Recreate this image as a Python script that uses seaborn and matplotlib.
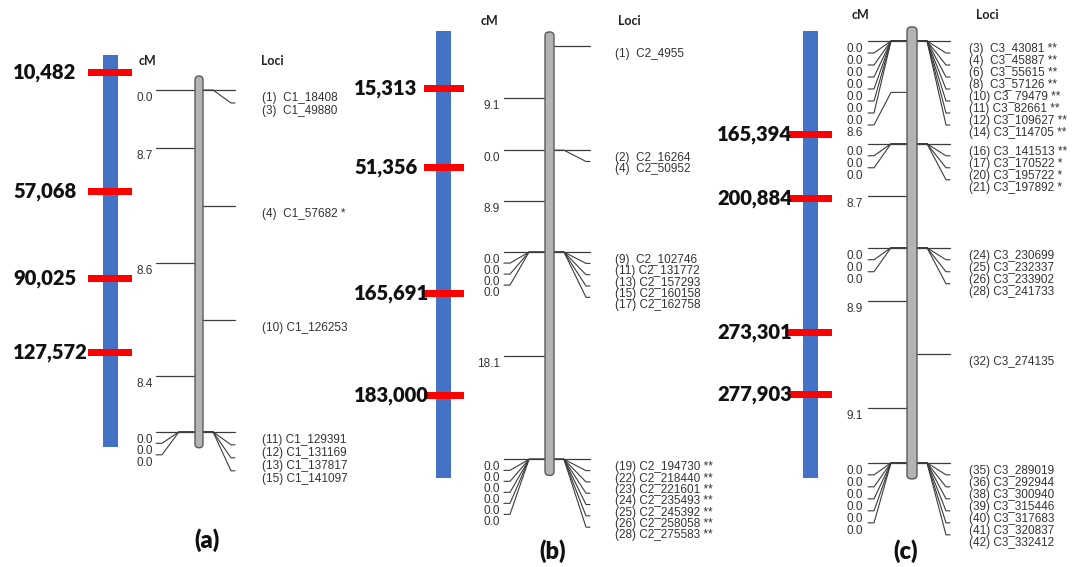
import matplotlib
matplotlib.use("Agg")
import matplotlib.pyplot as plt
import seaborn as sns
from matplotlib import font_manager
from matplotlib.patches import Rectangle, FancyBboxPatch
from matplotlib.transforms import offset_copy

# ---- chromosome 1 (a) ----
c1_ids = [1, 3, 4, 10, 11, 12, 13, 15]
c1_names = ["C1_18408", "C1_49880", "C1_57682", "C1_126253",
            "C1_129391", "C1_131169", "C1_137817", "C1_141097"]
c1_cm = [0.0, 0.0, 8.7, 17.3, 25.7, 25.7, 25.7, 25.7]
c1_stars = ["", "", "*", "", "", "", "", ""]
c1_phys = [10482, 57068, 90025, 127572]
c1_phys_track = [-1.3, 7.6, 14.2, 19.7]

# ---- chromosome 2 (b) ----
c2_ids = [1, 2, 4, 9, 11, 13, 15, 17, 19, 22, 23, 24, 25, 26, 28]
c2_names = ["C2_4955", "C2_16264", "C2_50952", "C2_102746", "C2_131772",
            "C2_157293", "C2_160158", "C2_162758", "C2_194730", "C2_218440",
            "C2_221601", "C2_235493", "C2_245392", "C2_258058", "C2_275583"]
c2_cm = [0.0, 9.1, 9.1, 18.0, 18.0, 18.0, 18.0, 18.0,
         36.1, 36.1, 36.1, 36.1, 36.1, 36.1, 36.1]
c2_stars = [""] * 8 + ["**"] * 7
c2_phys = [15313, 51356, 165691, 183000]
c2_phys_track = [3.7, 10.6, 21.6, 30.5]

# ---- chromosome 3 (c) ----
c3_ids = [3, 4, 6, 8, 10, 11, 12, 14, 16, 17, 20, 21, 24, 25, 26, 28,
          32, 35, 36, 38, 39, 40, 41, 42]
c3_names = ["C3_43081", "C3_45887", "C3_55615", "C3_57126", "C3_79479",
            "C3_82661", "C3_109627", "C3_114705", "C3_141513", "C3_170522",
            "C3_195722", "C3_197892", "C3_230699", "C3_232337", "C3_233902",
            "C3_241733", "C3_274135", "C3_289019", "C3_292944", "C3_300940",
            "C3_315446", "C3_317683", "C3_320837", "C3_332412"]
c3_cm = [0.0] * 8 + [8.6] * 4 + [17.3] * 4 + [26.2] + [35.3] * 7
c3_stars = ["**"] * 9 + ["*"] * 3 + [""] * 12
c3_phys = [165394, 200884, 273301, 277903]
c3_phys_track = [7.8, 13.2, 24.4, 29.6]

panels = [
    dict(tag="(a)", ids=c1_ids, names=c1_names, cm=c1_cm, stars=c1_stars,
         phys=c1_phys, track=c1_phys_track,
         y0=90, s=13.3, blue=(103, 118, 55, 447), red=(88, 132), phys_x=13,
         cm_hdr=(139, 61), loci_hdr=(261, 61), gray=(195, 203),
         left_end=156, right_end=235, left_lbl=153, right_lbl=262,
         gap_l=11.5, gap_r=13.0, caption=(207, 540)),
    dict(tag="(b)", ids=c2_ids, names=c2_names, cm=c2_cm, stars=c2_stars,
         phys=c2_phys, track=c2_phys_track,
         y0=46, s=11.45, blue=(436, 451, 31, 478), red=(424, 464), phys_x=354,
         cm_hdr=(481, 21), loci_hdr=(618, 21), gray=(545, 554),
         left_end=504, right_end=590, left_lbl=500, right_lbl=615,
         gap_l=11.0, gap_r=11.3, caption=(553, 551)),
    dict(tag="(c)", ids=c3_ids, names=c3_names, cm=c3_cm, stars=c3_stars,
         phys=c3_phys, track=c3_phys_track,
         y0=41, s=11.95, blue=(803, 818, 31, 478), red=(788, 832), phys_x=717,
         cm_hdr=(852, 15), loci_hdr=(976, 15), gray=(907, 917),
         left_end=868, right_end=950, left_lbl=863, right_lbl=969,
         gap_l=12.0, gap_r=12.0, caption=(906, 551)),
]

sns.set_theme(style="white")
available = {f.name for f in font_manager.fontManager.ttflist}
if "Liberation Sans Narrow" in available:
    narrow, lab_size = "Liberation Sans Narrow", 10
else:
    narrow, lab_size = "Liberation Sans", 8.5
plt.rcParams["font.family"] = ["Lato", "DejaVu Sans"]

LINE = "#3c3c3c"
W, H = 1082, 567


def stack(anchors, gap):
    slots = []
    for a in anchors:
        slots.append(a if not slots else max(a, slots[-1] + gap))
    return slots


def connector(ax, xs, ya, yl):
    x_bar, x_k1, x_k2, x_end = xs
    if abs(yl - ya) < 1e-9:
        ax.plot([x_bar, x_end], [ya, ya], color=LINE, lw=0.9)
    else:
        ax.plot([x_bar, x_k1, x_k2, x_end], [ya, ya, yl, yl], color=LINE, lw=0.8)


fig = plt.figure(figsize=(W / 100, H / 100), dpi=100)
fig.patch.set_facecolor("white")

for p in panels:
    ax = fig.add_axes([0, 0, 1, 1])
    ax.set_xlim(0, W)
    s, y0 = p["s"], p["y0"]
    ax.set_ylim((H - y0) / s, -y0 / s)
    ax.axis("off")
    ax.patch.set_alpha(0)

    def py(y):
        return (y - y0) / s

    lbl_tr = offset_copy(ax.transData, fig=fig, x=0, y=-8 * 0.72, units="points")

    # physical map bar
    bx0, bx1, by0, by1 = p["blue"]
    ax.add_patch(Rectangle((bx0, py(by0)), bx1 - bx0, py(by1) - py(by0),
                           facecolor="#4472C4", edgecolor="none", zorder=2))
    rx0, rx1 = p["red"]
    for v, t in zip(p["phys"], p["track"]):
        ax.add_patch(Rectangle((rx0, t - 3.5 / s), rx1 - rx0, 7 / s,
                               facecolor="#FF0000", edgecolor="none", zorder=3))
        ax.text(p["phys_x"], t, f"{v:,}", ha="left", va="center", fontsize=14.5,
                fontweight="heavy", color="#111111", zorder=4)

    # headers
    ax.text(p["cm_hdr"][0], py(p["cm_hdr"][1]), "cM", ha="left", va="center",
            fontsize=9, fontweight="bold", color="#222222")
    ax.text(p["loci_hdr"][0], py(p["loci_hdr"][1]), "Loci", ha="left",
            va="center", fontsize=9, fontweight="bold", color="#222222")

    # linkage group bar
    gx0, gx1 = p["gray"]
    top = min(p["cm"]) - 14 / s
    bot = max(p["cm"]) + 16 / s
    ax.add_patch(FancyBboxPatch((gx0, top), gx1 - gx0, bot - top,
                                boxstyle="round,pad=0,rounding_size=4",
                                mutation_aspect=1 / s, facecolor="#b3b3b3",
                                edgecolor="#5a5a5a", lw=1.0, zorder=3))

    # right side: loci
    r_slots = stack(p["cm"], p["gap_r"] / s)
    rxs = (gx1, gx1 + 10, p["right_end"] - 4, p["right_end"])
    for i, (a, sl) in enumerate(zip(p["cm"], r_slots)):
        connector(ax, rxs, a, sl)
        pad = "  " if p["ids"][i] < 10 else " "
        txt = f"({p['ids'][i]}){pad}{p['names'][i]}"
        if p["stars"][i]:
            txt += " " + p["stars"][i]
        ax.text(p["right_lbl"], sl, txt, ha="left", va="center",
                fontsize=lab_size, family=narrow, color="#333333",
                transform=lbl_tr)

    # left side: interval distances at midpoints
    cm = p["cm"]
    dists = [cm[i + 1] - cm[i] for i in range(len(cm) - 1)]
    mids = [(cm[i + 1] + cm[i]) / 2 for i in range(len(cm) - 1)]
    l_slots = stack(mids, p["gap_l"] / s)
    lxs = (gx0, gx0 - 16, p["left_end"] + 6, p["left_end"])
    for d, a, sl in zip(dists, mids, l_slots):
        connector(ax, lxs, a, sl)
        ax.text(p["left_lbl"], sl, f"{d:.1f}", ha="right", va="center",
                fontsize=lab_size, family=narrow, color="#333333",
                transform=lbl_tr)

    cx, cy = p["caption"]
    ax.text(cx, py(cy), p["tag"], ha="center", va="center", fontsize=17,
            fontweight="heavy", color="#111111")

fig.savefig("out.png", dpi=100)
